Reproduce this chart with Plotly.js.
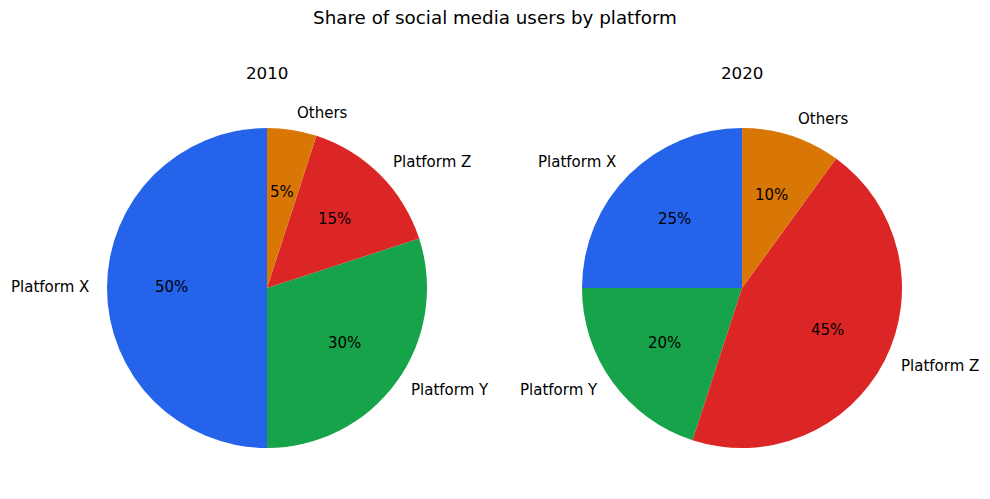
<!DOCTYPE html>
<html>
<head>
<meta charset="utf-8">
<script src="https://cdn.plot.ly/plotly-3.0.1.min.js"></script>
<style>
  html, body { margin: 0; padding: 0; background: #ffffff; }
  #chart { width: 990px; height: 499px; }
</style>
</head>
<body>
<div id="chart"></div>
<script>
// Platform shares per year
const platforms = ["Platform X", "Platform Y", "Platform Z", "Others"];
const years = ["2010", "2020"];
const shares2010 = [50, 30, 15, 5];
const shares2020 = [25, 20, 45, 10];
const sliceColors = ["#2563eb", "#16a34a", "#dc2626", "#d97706"];

// Page and pie geometry (pixels)
const W = 990, H = 499;
const R = 160;
const centers = [[267, 288], [742, 288]];
const LABEL_DIST = 1.1, PCT_DIST = 0.6;
const FONT = "DejaVu Sans, sans-serif";
const TEXT_SIZE = 15;
const TEXT_LIFT = 1.5; // compensates for descender space in middle-anchored text

const series = [shares2010, shares2020];
const traces = [];
const annotations = [];

series.forEach((vals, i) => {
  const [cx, cy] = centers[i];
  const total = vals.reduce((a, b) => a + b, 0);
  // In counterclockwise mode Plotly ends the first wedge at `rotation`,
  // so shift by the first wedge's sweep to make it start at 12 o'clock.
  const firstSweep = vals[0] / total * 360;
  traces.push({
    type: "pie",
    values: vals,
    labels: platforms,
    sort: false,
    direction: "counterclockwise",
    rotation: -firstSweep,
    textinfo: "none",
    hoverinfo: "label+percent",
    showlegend: false,
    marker: { colors: sliceColors, line: { width: 0 } },
    domain: {
      x: [(cx - R) / W, (cx + R) / W],
      y: [(H - (cy + R)) / H, (H - (cy - R)) / H]
    }
  });

  // Slice labels and percentages placed along each wedge's mid-angle,
  // wedges run counterclockwise from 12 o'clock
  let start = 90;
  vals.forEach((v, k) => {
    const sweep = v / total * 360;
    const mid = (start + sweep / 2) * Math.PI / 180;
    start += sweep;
    const c = Math.cos(mid), s = Math.sin(mid);
    const lx = cx + LABEL_DIST * R * c, ly = cy - LABEL_DIST * R * s;
    annotations.push({
      xref: "paper", yref: "paper",
      x: lx / W, y: 1 - ly / H,
      yshift: TEXT_LIFT,
      text: platforms[k],
      showarrow: false,
      xanchor: c > 0 ? "left" : "right",
      yanchor: "middle",
      font: { family: FONT, size: TEXT_SIZE, color: "#000000" }
    });
    const px = cx + PCT_DIST * R * c, py = cy - PCT_DIST * R * s;
    annotations.push({
      xref: "paper", yref: "paper",
      x: px / W, y: 1 - py / H,
      yshift: TEXT_LIFT,
      text: Math.round(v / total * 100) + "%",
      showarrow: false,
      xanchor: "center",
      yanchor: "middle",
      font: { family: FONT, size: TEXT_SIZE, color: "#000000" }
    });
  });

  // Year heading above each pie
  annotations.push({
    xref: "paper", yref: "paper",
    x: cx / W, y: 1 - 73 / H,
    text: years[i],
    showarrow: false,
    xanchor: "center",
    yanchor: "middle",
    font: { family: FONT, size: 16.7, color: "#000000" }
  });
});

const layout = {
  width: W,
  height: H,
  margin: { l: 0, r: 0, t: 0, b: 0 },
  paper_bgcolor: "#ffffff",
  plot_bgcolor: "#ffffff",
  title: {
    text: "Share of social media users by platform",
    x: 0.5,
    xanchor: "center",
    y: 1 - 18 / H,
    yanchor: "middle",
    font: { family: FONT, size: 18.3, color: "#000000" }
  },
  annotations: annotations
};

Plotly.newPlot("chart", traces, layout, { displayModeBar: false, staticPlot: true });
</script>
</body>
</html>
